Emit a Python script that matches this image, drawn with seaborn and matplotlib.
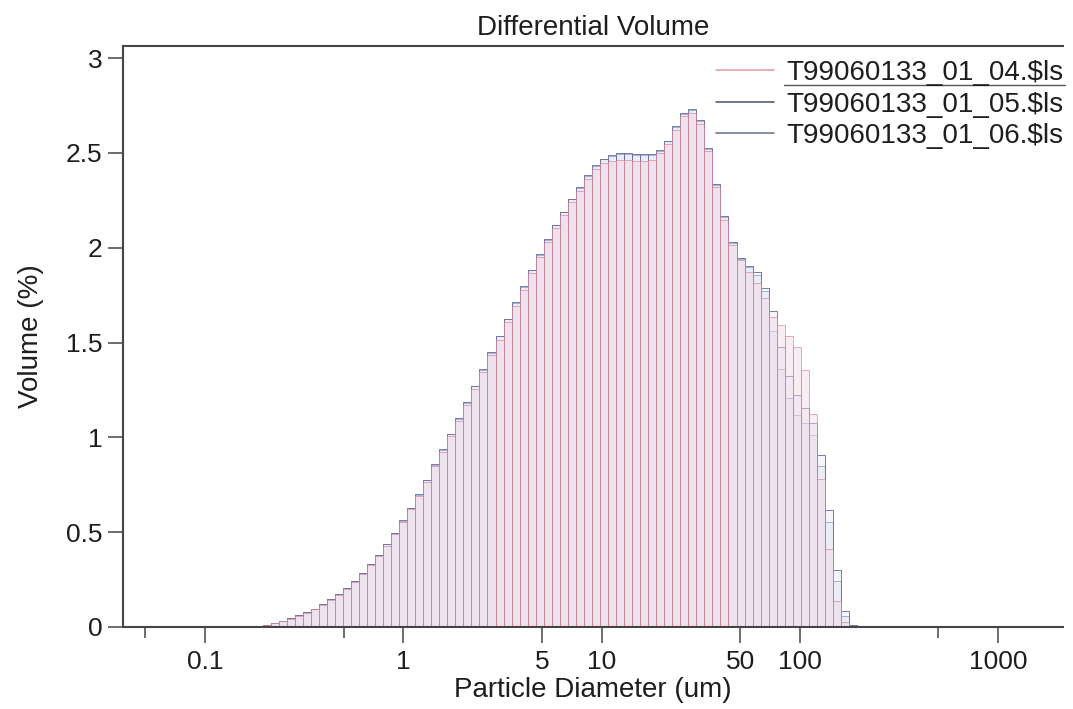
import numpy as np
import pandas as pd
import matplotlib
matplotlib.use("Agg")
import matplotlib.pyplot as plt
import seaborn as sns
from matplotlib.lines import Line2D
from matplotlib.ticker import FixedLocator, FixedFormatter, NullFormatter

# ---------------- data ----------------
# LS 13 320 size channels: 116 channels, 0.04 .. 2000 um (geometric spacing)
channel_edges = np.geomspace(0.04, 2000, 117)

series_names = ["T99060133_01_04.$ls", "T99060133_01_05.$ls", "T99060133_01_06.$ls"]

# Volume (%) per channel (channels 0..115)
vol_04 = ([0.0] * 14 + [
    0.001, 0.003, 0.006, 0.011, 0.019, 0.029, 0.044, 0.058, 0.075, 0.093,
    0.117, 0.143, 0.170, 0.200, 0.238, 0.280, 0.326, 0.375, 0.429, 0.490,
    0.554, 0.622, 0.691, 0.766, 0.847, 0.925, 1.006, 1.088, 1.171, 1.256,
    1.344, 1.432, 1.516, 1.607, 1.695, 1.779, 1.867, 1.949, 2.028, 2.104,
    2.174, 2.240, 2.300, 2.361, 2.414, 2.446, 2.459, 2.463, 2.463, 2.459,
    2.458, 2.463, 2.498, 2.547, 2.621, 2.695, 2.712, 2.653, 2.512, 2.319,
    2.147, 2.016, 1.937, 1.872, 1.814, 1.735, 1.637, 1.595, 1.537, 1.477,
    1.354, 1.121, 0.779, 0.410, 0.138, 0.028, 0.002] + [0.0] * 25)

vol_05 = ([0.0] * 14 + [
    0.001, 0.003, 0.006, 0.012, 0.020, 0.031, 0.046, 0.061, 0.078, 0.097,
    0.122, 0.148, 0.176, 0.206, 0.244, 0.287, 0.333, 0.382, 0.436, 0.497,
    0.562, 0.630, 0.700, 0.776, 0.858, 0.937, 1.019, 1.102, 1.186, 1.272,
    1.360, 1.449, 1.537, 1.625, 1.712, 1.796, 1.884, 1.967, 2.046, 2.121,
    2.191, 2.258, 2.319, 2.382, 2.435, 2.470, 2.489, 2.498, 2.501, 2.495,
    2.495, 2.495, 2.516, 2.565, 2.642, 2.712, 2.733, 2.674, 2.525, 2.337,
    2.165, 2.028, 1.944, 1.905, 1.870, 1.788, 1.665, 1.477, 1.326, 1.223,
    1.156, 1.077, 0.907, 0.617, 0.300, 0.086, 0.008] + [0.0] * 25)

vol_06 = ([0.0] * 14 + [
    0.001, 0.003, 0.006, 0.012, 0.020, 0.031, 0.046, 0.061, 0.078, 0.097,
    0.122, 0.148, 0.176, 0.206, 0.244, 0.287, 0.333, 0.382, 0.436, 0.497,
    0.560, 0.628, 0.698, 0.774, 0.855, 0.934, 1.016, 1.099, 1.183, 1.269,
    1.357, 1.446, 1.534, 1.622, 1.709, 1.793, 1.881, 1.964, 2.043, 2.118,
    2.188, 2.255, 2.316, 2.379, 2.431, 2.466, 2.484, 2.492, 2.495, 2.490,
    2.489, 2.490, 2.512, 2.561, 2.637, 2.708, 2.728, 2.670, 2.522, 2.333,
    2.160, 2.024, 1.940, 1.898, 1.858, 1.770, 1.560, 1.363, 1.205, 1.117,
    1.077, 1.010, 0.849, 0.554, 0.244, 0.060, 0.005] + [0.0] * 25)

x_major = [0.1, 1, 5, 10, 50, 100, 1000]
x_major_labels = ["0.1", "1", "5", "10", "50", "100", "1000"]
x_minor = [0.05, 0.5, 500]
y_ticks = [0, 0.5, 1, 1.5, 2, 2.5, 3]
y_tick_labels = ["0", "0.5", "1", "1.5", "2", "2.5", "3"]

# ---------------- style ----------------
sns.set_style("ticks")
plt.rcParams["font.family"] = ["Liberation Sans", "DejaVu Sans"]
text_color = "#1e1e1e"
axis_color = "#454545"

fig = plt.figure(figsize=(10.73, 7.09), dpi=100)
ax = fig.add_axes([0.1146, 0.1157, 0.8761, 0.8194])

centers = np.sqrt(channel_edges[:-1] * channel_edges[1:])
log_bins = [float(v) for v in np.log10(channel_edges)]

styles = [
    # (values, facecolor, edgecolor)
    (vol_06, (0.85, 0.87, 0.96, 0.30), (0.55, 0.60, 0.77, 0.9)),
    (vol_05, (0.82, 0.85, 0.94, 0.25), (0.40, 0.44, 0.60, 0.9)),
    (vol_04, (0.96, 0.84, 0.90, 0.45), (0.85, 0.50, 0.56, 0.65)),
]
for vals, fc, ec in styles:
    df = pd.DataFrame({"diameter": centers, "volume": np.asarray(vals, dtype=float)})
    sns.histplot(data=df, x="diameter", weights="volume", bins=log_bins, log_scale=True,
                 element="bars", fill=True, facecolor=fc, edgecolor=ec,
                 linewidth=0.7, ax=ax)

ax.set_xscale("log")
ax.set_xlim(0.0386, 2125)
ax.set_ylim(0, 3.064)

ax.xaxis.set_major_locator(FixedLocator(x_major))
ax.xaxis.set_major_formatter(FixedFormatter(x_major_labels))
ax.xaxis.set_minor_locator(FixedLocator(x_minor))
ax.xaxis.set_minor_formatter(NullFormatter())
ax.set_yticks(y_ticks)
ax.set_yticklabels(y_tick_labels)

ax.tick_params(axis="x", which="major", direction="out", length=11.5, width=1.1,
               color=axis_color, labelsize=19, labelcolor=text_color, pad=5)
ax.tick_params(axis="x", which="minor", direction="out", length=8, width=1.1,
               color=axis_color)
ax.tick_params(axis="y", which="major", direction="out", length=10.8, width=1.1,
               color=axis_color, labelsize=19, labelcolor=text_color, pad=4)

for side in ["left", "top", "bottom"]:
    ax.spines[side].set_visible(True)
    ax.spines[side].set_color(axis_color)
    ax.spines[side].set_linewidth(1.5)
ax.spines["right"].set_visible(False)

ax.set_title("Differential Volume", fontsize=20, color=text_color, pad=8)
ax.set_xlabel("Particle Diameter (um)", fontsize=20, color=text_color, labelpad=2)
ax.set_ylabel("Volume (%)", fontsize=20, color=text_color, labelpad=16)

handles = [
    Line2D([], [], color="#e2a2aa", lw=1.2),
    Line2D([], [], color="#55607f", lw=1.2),
    Line2D([], [], color="#6f7a95", lw=1.2),
]
leg = ax.legend(handles, series_names, loc="upper right", bbox_to_anchor=(1.0113, 0.994),
                frameon=False, fontsize=20, handlelength=2.1, handletextpad=0.43,
                labelspacing=0.2, borderaxespad=0.0, borderpad=0.38)
for t in leg.get_texts():
    t.set_color(text_color)

# thin separator line drawn under the first legend entry in the reference
ax.add_line(Line2D([0.703, 1.002], [0.933, 0.933], transform=ax.transAxes,
                   color="#555555", lw=1.0, clip_on=False))

fig.savefig("out.png", dpi=100)
